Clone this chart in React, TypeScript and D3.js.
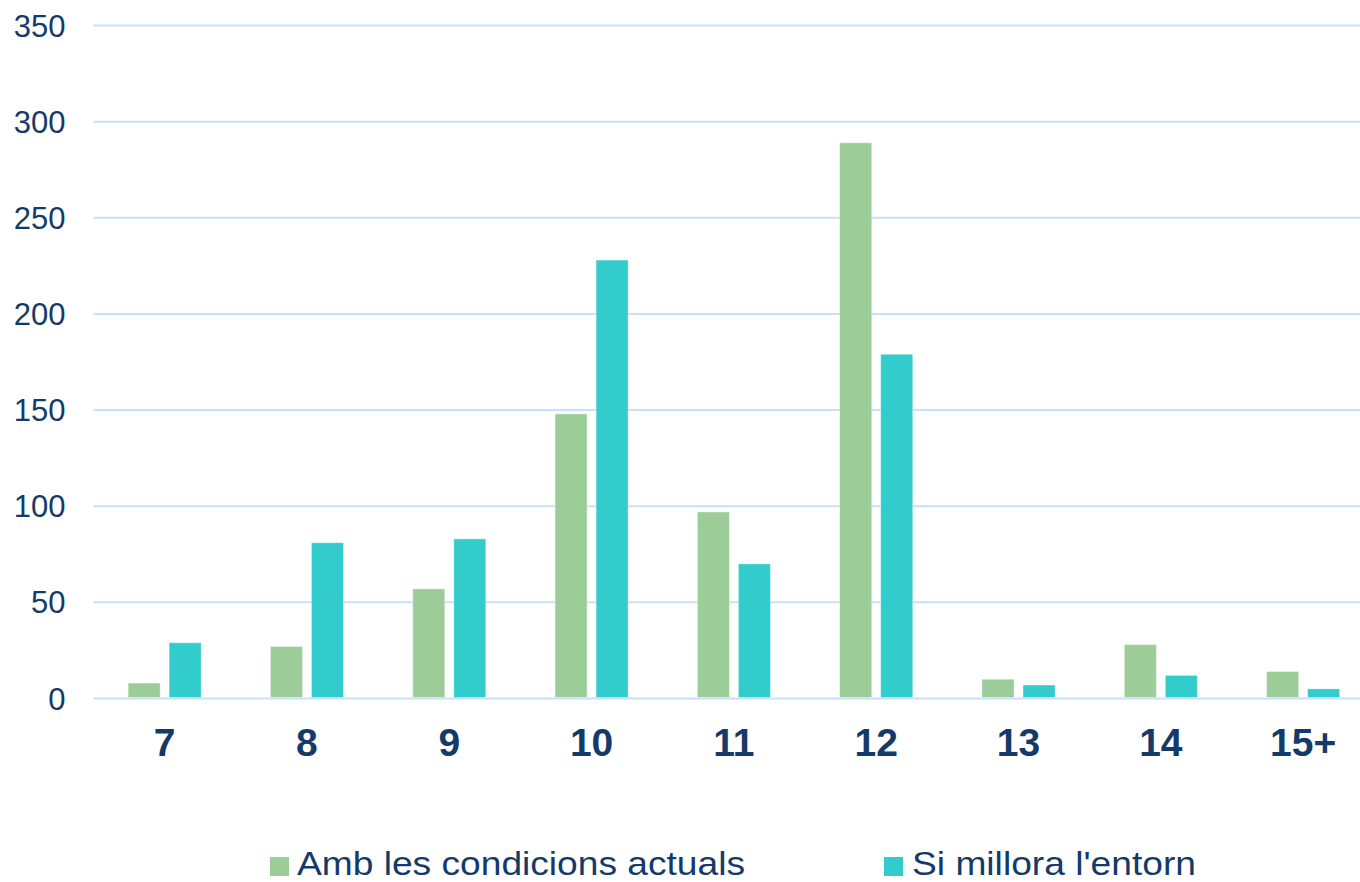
import React from "react";
import * as d3 from "d3";

const categories = ["7", "8", "9", "10", "11", "12", "13", "14", "15+"];
const seriesNames = ["Amb les condicions actuals", "Si millora l'entorn"];
const actuals = [8, 27, 57, 148, 97, 289, 10, 28, 14];
const millora = [29, 81, 83, 228, 70, 179, 7, 12, 5];
const yTicks = [0, 50, 100, 150, 200, 250, 300, 350];

const W = 1360;
const H = 882;
const textColor = "#143a69";
const gridColor = "#c6e1f8";
const colors = ["#9ccc98", "#33cccc"];

export default function App() {
  const x = d3.scaleBand<string>().domain(categories).range([93.5, 1374.3]).paddingInner(0).paddingOuter(0);
  const y = d3.scaleLinear().domain([0, 350]).range([698.5, 25.5]);
  const barW = 32;
  const gap = 9;
  const step = x.bandwidth();
  const series = [actuals, millora];

  return (
    <svg width={W} height={H} style={{ position: "absolute", left: 0, top: 0, display: "block", background: "#fff" }}
      fontFamily="'Liberation Sans', Arial, sans-serif">
      {yTicks.map((t) => (
        <g key={t}>
          <line x1={93.5} x2={W} y1={y(t)} y2={y(t)} stroke={gridColor} strokeWidth={2} />
          <text x={65.5} y={y(t) + 11} textAnchor="end" fontSize={31} fill={textColor}>{t}</text>
        </g>
      ))}
      {series.map((vals, si) =>
        vals.map((v, i) => {
          const c = (x(categories[i]) as number) + step / 2;
          const bx = si === 0 ? c - gap / 2 - barW : c + gap / 2;
          return (
            <rect key={`${si}-${i}`} x={bx} y={y(v)} width={barW} height={y(0) - y(v) - 1}
              fill={colors[si]} stroke="rgba(255,255,255,0.35)" strokeWidth={1} />
          );
        })
      )}
      {categories.map((c) => (
        <text key={c} x={(x(c) as number) + step / 2} y={756} textAnchor="middle" fontSize={39}
          fontWeight="bold" fill={textColor}>{c}</text>
      ))}
      <rect x={270} y={857} width={19} height={19} fill={colors[0]} />
      <text x={297} y={875} fontSize={33} fill={textColor} textLength={448} lengthAdjust="spacingAndGlyphs">{seriesNames[0]}</text>
      <rect x={884} y={857} width={19} height={19} fill={colors[1]} />
      <text x={912} y={875} fontSize={33} fill={textColor} textLength={284} lengthAdjust="spacingAndGlyphs">{seriesNames[1]}</text>
    </svg>
  );
}
